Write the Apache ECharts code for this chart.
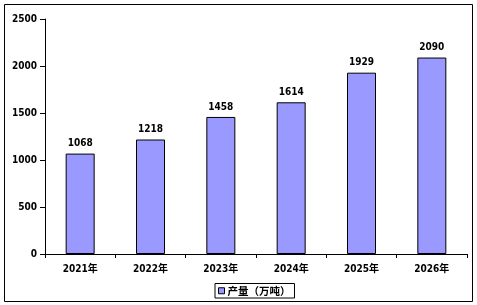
<!DOCTYPE html>
<html>
<head>
<meta charset="utf-8">
<script src="https://cdn.jsdelivr.net/npm/echarts@6/dist/echarts.min.js"></script>
<style>
  html, body { margin: 0; padding: 0; background: #fff; }
  #chart { width: 477px; height: 305px; }
</style>
</head>
<body>
<div id="chart"></div>
<script>
// chart data
const years = ['2021年', '2022年', '2023年', '2024年', '2025年', '2026年'];
const output = [1068, 1218, 1458, 1614, 1929, 2090];
const seriesName = '产量（万吨）';

const font = '"DejaVu Sans Condensed", "Noto Sans CJK SC", sans-serif';

const chart = echarts.init(document.getElementById('chart'));

chart.setOption({
    backgroundColor: '#fff',
    animation: false,
    graphic: [{
        type: 'rect',
        shape: { x: 4.5, y: 4.5, width: 468, height: 297 },
        style: { fill: 'none', stroke: '#000', lineWidth: 1 }
    }],
    grid: { left: 45, right: 10, top: 19, bottom: 51 },
    legend: {
        data: [seriesName],
        bottom: 7,
        left: 215,
        icon: 'rect',
        itemWidth: 6,
        itemHeight: 6,
        itemStyle: { borderColor: '#000', borderWidth: 1 },
        padding: [2, 4, 2, 3],
        borderColor: '#000',
        borderWidth: 1,
        textStyle: {
            fontFamily: '"Noto Sans CJK SC", sans-serif',
            fontSize: 10.5, fontWeight: 'bold', color: '#000', padding: [0, 0, 0, -2]
        }
    },
    xAxis: {
        type: 'category',
        data: years,
        axisLine: { lineStyle: { color: '#000', width: 1 } },
        axisTick: { show: true, length: 4, lineStyle: { color: '#000' } },
        axisLabel: { fontFamily: font, fontSize: 10, fontWeight: 'bold', color: '#000', margin: 10 }
    },
    yAxis: {
        type: 'value',
        min: 0,
        max: 2500,
        interval: 500,
        splitLine: { show: false },
        axisLine: { show: true, lineStyle: { color: '#000', width: 1 } },
        axisTick: { show: true, length: 5, lineStyle: { color: '#000' } },
        axisLabel: {
            fontFamily: font, fontSize: 10, fontWeight: 'bold', color: '#000', margin: 8,
            formatter: v => String(v)
        }
    },
    series: [{
        name: seriesName,
        type: 'bar',
        data: output,
        barWidth: 29,
        itemStyle: { color: '#9999FF', borderColor: '#000', borderWidth: 1 },
        label: {
            show: true,
            position: 'top',
            distance: 5,
            fontFamily: font,
            fontSize: 10,
            fontWeight: 'bold',
            color: '#000'
        }
    }]
});
</script>
</body>
</html>
